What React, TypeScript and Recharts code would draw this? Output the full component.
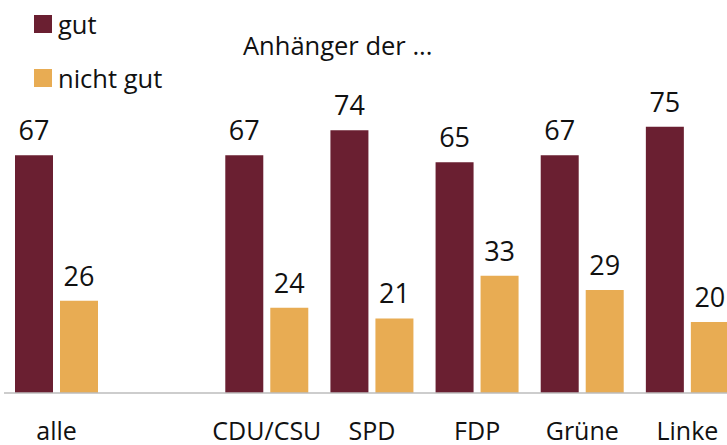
import React from 'react';
import { BarChart, Bar, XAxis, YAxis, LabelList } from 'recharts';

const categories = ['alle', '', 'CDU/CSU', 'SPD', 'FDP', 'Grüne', 'Linke'];
const gut = [67, null, 67, 74, 65, 67, 75];
const nichtGut = [26, null, 24, 21, 33, 29, 20];
const legendItems = ['gut', 'nicht gut'];

const GUT_COLOR = '#6A1F31';
const NICHT_COLOR = '#E8AC53';
const FONT = '"Open Sans", sans-serif';

const chartData = categories.map((name, i) => ({
  name,
  gut: gut[i],
  nichtGut: nichtGut[i],
}));

const CategoryTick = (props: any) => {
  const { x, y, payload } = props;
  return (
    <text x={x} y={y + 47} textAnchor="middle" fontSize={25} fontFamily={FONT} fill="#111">
      {payload.value}
    </text>
  );
};

export default function App() {
  const colors = [GUT_COLOR, NICHT_COLOR];
  return (
    <div style={{ position: 'absolute', left: 0, top: 0, width: 727, height: 445, overflow: 'hidden', background: '#fff' }}>
      <BarChart
        width={745}
        height={445}
        data={chartData}
        margin={{ top: 38, right: 5, bottom: 0, left: 4 }}
        barSize={38}
        barGap={7}
      >
        <YAxis hide width={0} domain={[0, 100]} />
        <XAxis
          dataKey="name"
          axisLine={{ stroke: '#BDBDBD', strokeWidth: 1.5 }}
          tickLine={false}
          tickSize={0}
          tickMargin={0}
          height={52}
          interval={0}
          tick={<CategoryTick />}
        />
        <Bar dataKey="gut" name="gut" fill={GUT_COLOR} isAnimationActive={false}>
          <LabelList dataKey="gut" position="top" offset={15} fontSize={27} fontFamily={FONT} fill="#111" />
        </Bar>
        <Bar dataKey="nichtGut" name="nicht gut" fill={NICHT_COLOR} isAnimationActive={false}>
          <LabelList dataKey="nichtGut" position="top" offset={15} fontSize={27} fontFamily={FONT} fill="#111" />
        </Bar>
      </BarChart>
      <div style={{ position: 'absolute', left: 34, top: 6, fontFamily: FONT, fontSize: 25.5, color: '#111' }}>
        {legendItems.map((label, i) => (
          <div key={label} style={{ display: 'flex', alignItems: 'center', height: 36, marginBottom: 18 }}>
            <span style={{ width: 18, height: 18, background: colors[i], marginRight: 6, display: 'inline-block' }} />
            <span>{label}</span>
          </div>
        ))}
      </div>
      <div style={{ position: 'absolute', left: 243, top: 28, fontFamily: FONT, fontSize: 25.5, color: '#111', whiteSpace: 'nowrap' }}>
        Anhänger der ...
      </div>
    </div>
  );
}
